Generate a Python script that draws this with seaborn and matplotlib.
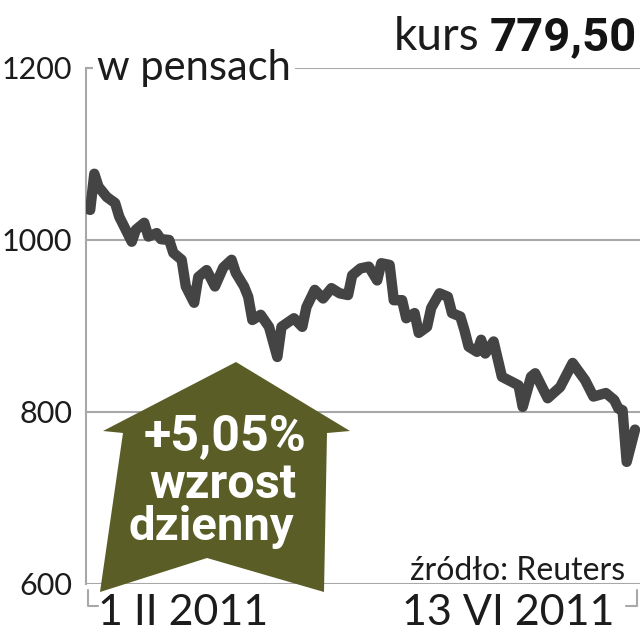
import pandas as pd
import seaborn as sns
import matplotlib.pyplot as plt
from matplotlib.patches import Polygon

# kurs akcji w pensach
dates = ["2011-02-01", "2011-02-02", "2011-02-03", "2011-02-04", "2011-02-06", "2011-02-08",
         "2011-02-09", "2011-02-12", "2011-02-13", "2011-02-15", "2011-02-16", "2011-02-18",
         "2011-02-19", "2011-02-21", "2011-02-22", "2011-02-24", "2011-02-25", "2011-02-27",
         "2011-02-28", "2011-03-02", "2011-03-04", "2011-03-06", "2011-03-08", "2011-03-09",
         "2011-03-11", "2011-03-12", "2011-03-13", "2011-03-15", "2011-03-17", "2011-03-19",
         "2011-03-20", "2011-03-23", "2011-03-25", "2011-03-26", "2011-03-28", "2011-03-30",
         "2011-04-01", "2011-04-03", "2011-04-05", "2011-04-06", "2011-04-08", "2011-04-10",
         "2011-04-12", "2011-04-13", "2011-04-15", "2011-04-16", "2011-04-18", "2011-04-19",
         "2011-04-21", "2011-04-22", "2011-04-24", "2011-04-25", "2011-04-27", "2011-04-29",
         "2011-04-30", "2011-05-02", "2011-05-03", "2011-05-04", "2011-05-06", "2011-05-07",
         "2011-05-08", "2011-05-10", "2011-05-12", "2011-05-16", "2011-05-17", "2011-05-19",
         "2011-05-20", "2011-05-23", "2011-05-26", "2011-05-29", "2011-06-01", "2011-06-03",
         "2011-06-06", "2011-06-08", "2011-06-09", "2011-06-10", "2011-06-11", "2011-06-13"]
price = [1037, 1035, 1077, 1062, 1050, 1043,
         1027, 998, 1012, 1020, 1004, 1008,
         1001, 1000, 985, 977, 946, 927,
         957, 965, 946, 968, 977, 962,
         946, 934, 907, 913, 899, 864,
         899, 909, 899, 922, 942, 932,
         944, 938, 936, 959, 967, 969,
         953, 973, 971, 930, 930, 909,
         915, 892, 899, 921, 938, 934,
         915, 911, 895, 876, 870, 884,
         868, 882, 841, 831, 806, 841,
         845, 816, 829, 857, 837, 818,
         822, 814, 804, 802, 742, 779.5]
yticks = [600, 800, 1000, 1200]
start_label = "1 II 2011"
end_label = "13 VI 2011"

df = pd.DataFrame({"data": pd.to_datetime(dates), "kurs": price})

sns.set_style("white")
plt.rcParams["font.family"] = ["Lato", "DejaVu Sans"]
bold_font = ["Roboto", "DejaVu Sans"]
ink = "#1c1c1c"

W, H = 642, 640
fig = plt.figure(figsize=(W / 100, H / 100), dpi=100)


def fx(x):
    return x / W


def fy(y):
    return 1 - y / H


ax = fig.add_axes([fx(86), fy(584), fx(640) - fx(86), fy(68) - fy(584)])
grey = "#a8a8a8"
for v in yticks:
    ax.axhline(v, color=grey, lw=1.5, zorder=1)

sns.lineplot(data=df, x="data", y="kurs", ax=ax, color="#444444", lw=7.5,
             solid_joinstyle="round", solid_capstyle="round", zorder=3)

ax.set_ylim(600, 1200)
ax.set_xlim(pd.Timestamp("2011-02-01"), pd.Timestamp("2011-02-01") + pd.Timedelta(days=133.2))
ax.set_xticks([])
ax.set_yticks(yticks)
ax.set_yticklabels([str(v) for v in yticks], fontsize=22, color=ink)
ax.tick_params(axis="y", length=0, pad=10)
ax.set_xlabel("")
ax.set_ylabel("")
for s in ["top", "right", "bottom"]:
    ax.spines[s].set_visible(False)
ax.spines["left"].set_color(grey)
ax.spines["left"].set_linewidth(1.5)
ax.patch.set_alpha(0)

# male klamry
fig.add_artist(plt.Line2D([fx(86), fx(95)], [fy(68), fy(68)], color=grey, lw=1.5))
fig.add_artist(plt.Line2D([fx(88), fx(88), fx(98)], [fy(590), fy(606), fy(606)], color=grey, lw=1.5))
fig.add_artist(plt.Line2D([fx(626), fx(637), fx(637)], [fy(606), fy(606), fy(590)], color=grey, lw=1.5))

fig.text(fx(97), fy(80), "w pensach", fontsize=30, color=ink,
         va="baseline", ha="left", bbox=dict(fc="white", ec="none", pad=3))
t = fig.text(fx(637), fy(50), "779,50", fontsize=34, fontweight="bold", color="#141414",
             va="baseline", ha="right", family=bold_font)
fig.canvas.draw()
bb = t.get_window_extent()
fig.text((bb.x0 - 10) / W, fy(50), "kurs", fontsize=33, color=ink,
         va="baseline", ha="right")

fig.text(fx(625), fy(580), "źródło: Reuters", fontsize=23, color=ink,
         ha="right", va="baseline")
fig.text(fx(98), fy(625), start_label, fontsize=31, color=ink,
         ha="left", va="baseline")
fig.text(fx(614), fy(625), end_label, fontsize=31, color=ink,
         ha="right", va="baseline")

# strzalka wzrostu
arrow = [(236, 362), (350, 431), (327, 433), (324, 592), (207, 558),
         (100, 592), (123, 433), (103, 431)]
fig.add_artist(Polygon([(fx(x), fy(y)) for x, y in arrow], closed=True,
                       fc="#5a5e26", ec="none", zorder=5))
fig.text(fx(225), fy(437), "+5,05%", fontsize=36, fontweight="bold", color="white",
         ha="center", va="center", zorder=6, family=bold_font)
fig.text(fx(223), fy(485), "wzrost", fontsize=35, fontweight="bold", color="white",
         ha="center", va="center", zorder=6, family=bold_font)
fig.text(fx(211), fy(527), "dzienny", fontsize=34, fontweight="bold", color="white",
         ha="center", va="center", zorder=6, family=bold_font)

fig.savefig("out.png", dpi=100)
